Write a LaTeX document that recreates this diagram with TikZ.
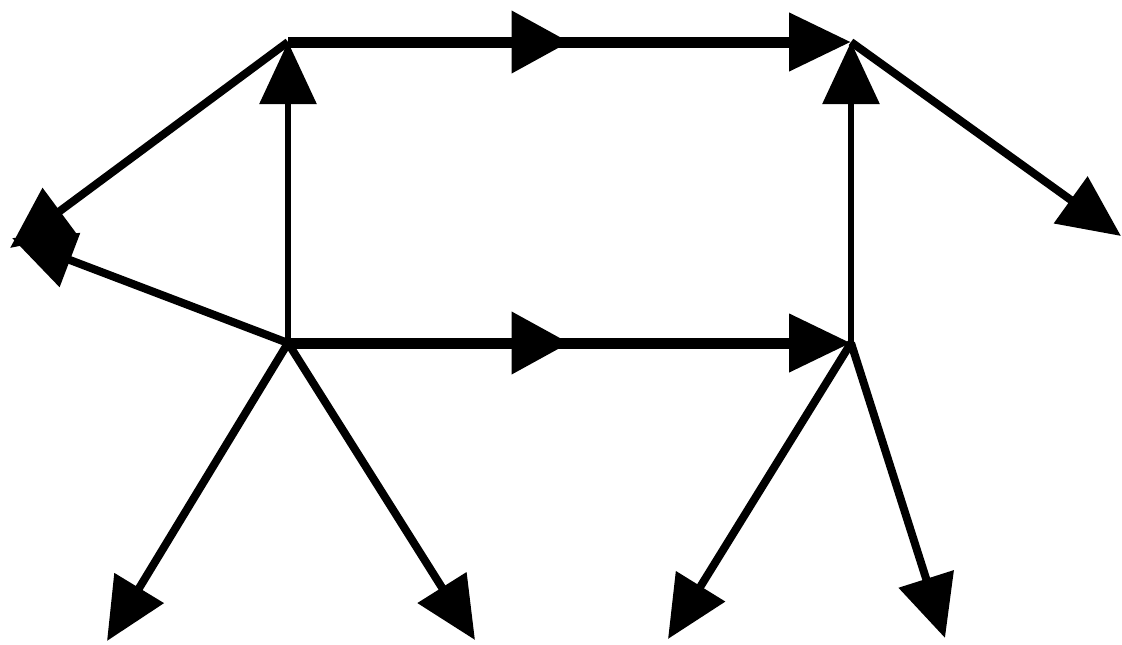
\documentclass[tikz,border=0pt]{standalone}
\usetikzlibrary{arrows.meta,decorations.markings}
\begin{document}
\begin{tikzpicture}[x=1pt,y=-1pt,
  head/.style={-{Triangle[length=62pt,width=56pt]}},
  hline/.style={line width=11pt},
  vline/.style={line width=6pt},
  dline/.style={line width=8pt},
  midhead/.style={postaction={decorate},decoration={markings,
    mark=at position 0.5 with {\arrow{Triangle[length=58pt,width=60pt]}}}}
]
\useasboundingbox (0,0) rectangle (1122,645);
\coordinate (A) at (288,42);
\coordinate (B) at (851,42);
\coordinate (C) at (288,343);
\coordinate (D) at (851,343);
\coordinate (L1) at (10,248);
\coordinate (L2) at (12,238);
\coordinate (R) at (1121,236);
\coordinate (P1) at (107,641);
\coordinate (P2) at (475,640);
\coordinate (P3) at (668,639);
\coordinate (P4) at (945,638);
\draw[hline,head,midhead] (A) -- (B);
\draw[hline,head,midhead] (C) -- (D);
\draw[vline,head] (C) -- (A);
\draw[vline,head] (D) -- (B);
\draw[dline,head] (A) -- (L1);
\draw[dline,head] (C) -- (L2);
\draw[dline,head] (B) -- (R);
\draw[dline,head] (C) -- (P1);
\draw[dline,head] (C) -- (P2);
\draw[dline,head] (D) -- (P3);
\draw[dline,head] (D) -- (P4);
\end{tikzpicture}
\end{document}
